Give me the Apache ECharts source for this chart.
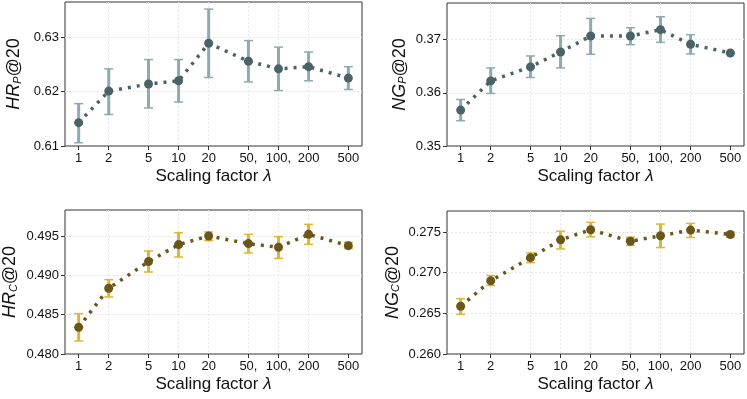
<!DOCTYPE html>
<html lang="en">
<head>
    <meta charset="UTF-8">
    <title>Scaling factor</title>
    <script src="https://cdn.jsdelivr.net/npm/echarts@6/dist/echarts.min.js"></script>
    <style>
        html, body { margin: 0; padding: 0; background: #fff; }
        #main { width: 747px; height: 399px; }
    </style>
</head>
<body>
    <div id="main"></div>
    <script>
        // x values (scaling factor lambda) and their tick labels
        var lambdas = [1, 2, 5, 10, 20, 50, 100, 200, 500];
        var xLabels = ['1', '2', '5', '10', '20', '50,', '100,', '200', '500'];

        // HR_P@20
        var hrP = [0.6143, 0.6201, 0.6214, 0.6220, 0.6289, 0.6256, 0.6242, 0.6246, 0.6225];
        var hrPLow = [0.6106, 0.6158, 0.6170, 0.6181, 0.6226, 0.6218, 0.6202, 0.6220, 0.6204];
        var hrPHigh = [0.6178, 0.6242, 0.6259, 0.6259, 0.6352, 0.6294, 0.6282, 0.6273, 0.6246];

        // NG_P@20
        var ngP = [0.35675, 0.36225, 0.36488, 0.36769, 0.37069, 0.37069, 0.37188, 0.36913, 0.3675];
        var ngPLow = [0.35475, 0.35988, 0.36288, 0.36469, 0.36725, 0.36906, 0.3695, 0.36731, 0.3673];
        var ngPHigh = [0.35875, 0.36469, 0.36694, 0.37075, 0.37400, 0.37225, 0.37431, 0.37094, 0.3677];

        // HR_C@20
        var hrC = [0.48339, 0.48835, 0.49174, 0.49390, 0.49500, 0.49403, 0.49356, 0.49521, 0.49377];
        var hrCLow = [0.48165, 0.48725, 0.49042, 0.49233, 0.49441, 0.49284, 0.49216, 0.49394, 0.49339];
        var hrCHigh = [0.48513, 0.48945, 0.49309, 0.49542, 0.49551, 0.49521, 0.49492, 0.49648, 0.49420];

        // NG_C@20
        var ngC = [0.26587, 0.26901, 0.27186, 0.27405, 0.27529, 0.27388, 0.27455, 0.27525, 0.27471];
        var ngCLow = [0.26488, 0.26843, 0.27124, 0.27293, 0.27442, 0.27335, 0.27310, 0.27434, 0.27438];
        var ngCHigh = [0.26682, 0.26967, 0.27244, 0.27512, 0.27620, 0.27438, 0.27599, 0.27607, 0.27500];

        var slate = '#4b6367', slateBar = '#8eaaae';
        var olive = '#6b5619', oliveBar = '#dcb63a';
        var font = 'Liberation Sans, Arial, sans-serif';

        var panels = [
            { name: 'HR', sub: 'P', y: hrP, lo: hrPLow, hi: hrPHigh, min: 0.61, max: 0.6365, step: 0.01, dec: 2, gap: 39,
              pt: slate, bar: slateBar, grid: { left: 65, top: 2, width: 297, height: 144 } },
            { name: 'NG', sub: 'P', y: ngP, lo: ngPLow, hi: ngPHigh, min: 0.35, max: 0.3769, step: 0.01, dec: 2, gap: 35,
              pt: slate, bar: slateBar, grid: { left: 447, top: 3, width: 297, height: 143 } },
            { name: 'HR', sub: 'C', y: hrC, lo: hrCLow, hi: hrCHigh, min: 0.48, max: 0.4983, step: 0.005, dec: 3, gap: 43,
              pt: olive, bar: oliveBar, grid: { left: 65, top: 210, width: 297, height: 144 } },
            { name: 'NG', sub: 'C', y: ngC, lo: ngCLow, hi: ngCHigh, min: 0.26, max: 0.2776, step: 0.005, dec: 3, gap: 41,
              pt: olive, bar: oliveBar, grid: { left: 447, top: 211, width: 297, height: 143 } }
        ];

        var grids = [], xAxes = [], yAxes = [], series = [];

        panels.forEach(function (p, i) {
            grids.push(Object.assign({
                show: true, borderColor: '#333', borderWidth: 1, containLabel: false, outerBoundsMode: 'none'
            }, p.grid));

            xAxes.push({
                gridIndex: i, type: 'log', logBase: 10, min: 0.73, max: 685,
                name: '{n|Scaling factor }{i|λ}', nameLocation: 'middle', nameGap: 22,
                nameTextStyle: { rich: {
                    n: { fontSize: 17, fontFamily: font, color: '#111' },
                    i: { fontSize: 17, fontFamily: font, fontStyle: 'italic', color: '#111' }
                } },
                axisLine: { show: false },
                axisTick: { show: true, length: 4, customValues: lambdas, lineStyle: { color: '#333' } },
                axisLabel: {
                    customValues: lambdas, margin: 6, fontSize: 13, fontFamily: font, color: '#111',
                    formatter: function (v) {
                        var k = lambdas.indexOf(Math.round(v));
                        return k >= 0 ? xLabels[k] : '';
                    }
                },
                splitLine: { show: true, showMinLine: false, showMaxLine: false,
                    lineStyle: { color: '#e6e6e6', type: [2, 2] } },
                minorSplitLine: { show: false }
            });

            yAxes.push({
                gridIndex: i, type: 'value', min: p.min, max: p.max, interval: p.step,
                name: '{i|' + p.name + '}{s|' + p.sub + '}{n|@20}', nameLocation: 'middle', nameRotate: 90,
                nameGap: p.gap,
                nameTextStyle: { rich: {
                    i: { fontSize: 18, fontFamily: font, fontStyle: 'italic', color: '#111', lineHeight: 24, verticalAlign: 'middle' },
                    s: { fontSize: 11, fontFamily: font, fontStyle: 'italic', color: '#111', lineHeight: 24, verticalAlign: 'bottom', padding: [0, 0, 3, 0] },
                    n: { fontSize: 18, fontFamily: font, color: '#111', lineHeight: 24, verticalAlign: 'middle' }
                } },
                axisLine: { show: false },
                axisTick: { show: true, length: 4, lineStyle: { color: '#333' } },
                axisLabel: {
                    margin: 6, fontSize: 13, fontFamily: font, color: '#111', showMaxLabel: false,
                    formatter: function (v) { return v.toFixed(p.dec); }
                },
                splitLine: { show: true, showMinLine: false, showMaxLine: false,
                    lineStyle: { color: '#e6e6e6', type: [2, 2] } }
            });

            var errData = lambdas.map(function (x, k) { return [x, p.lo[k], p.hi[k]]; });
            series.push({
                type: 'custom', xAxisIndex: i, yAxisIndex: i, z: 2,
                data: errData,
                encode: { x: 0, y: [1, 2] },
                renderItem: function (params, api) {
                    var top = api.coord([api.value(0), api.value(2)]);
                    var bot = api.coord([api.value(0), api.value(1)]);
                    var w = 4.5;
                    return {
                        type: 'group',
                        children: [
                            { type: 'line', shape: { x1: top[0], y1: top[1], x2: bot[0], y2: bot[1] },
                              style: { stroke: p.bar, lineWidth: 3 } },
                            { type: 'line', shape: { x1: top[0] - w, y1: top[1], x2: top[0] + w, y2: top[1] },
                              style: { stroke: p.bar, lineWidth: 1.5 } },
                            { type: 'line', shape: { x1: bot[0] - w, y1: bot[1], x2: bot[0] + w, y2: bot[1] },
                              style: { stroke: p.bar, lineWidth: 1.5 } }
                        ]
                    };
                }
            });

            series.push({
                type: 'line', xAxisIndex: i, yAxisIndex: i, z: 3,
                data: lambdas.map(function (x, k) { return [x, p.y[k]]; }),
                symbol: 'circle', symbolSize: 9, showSymbol: true,
                itemStyle: { color: p.pt },
                lineStyle: { color: p.pt, width: 3.5, type: [3, 6], cap: 'butt' },
                animation: false
            });
        });

        var myChart = echarts.init(document.getElementById('main'));
        myChart.setOption({
            animation: false,
            grid: grids,
            xAxis: xAxes,
            yAxis: yAxes,
            series: series
        });
    </script>
</body>
</html>
